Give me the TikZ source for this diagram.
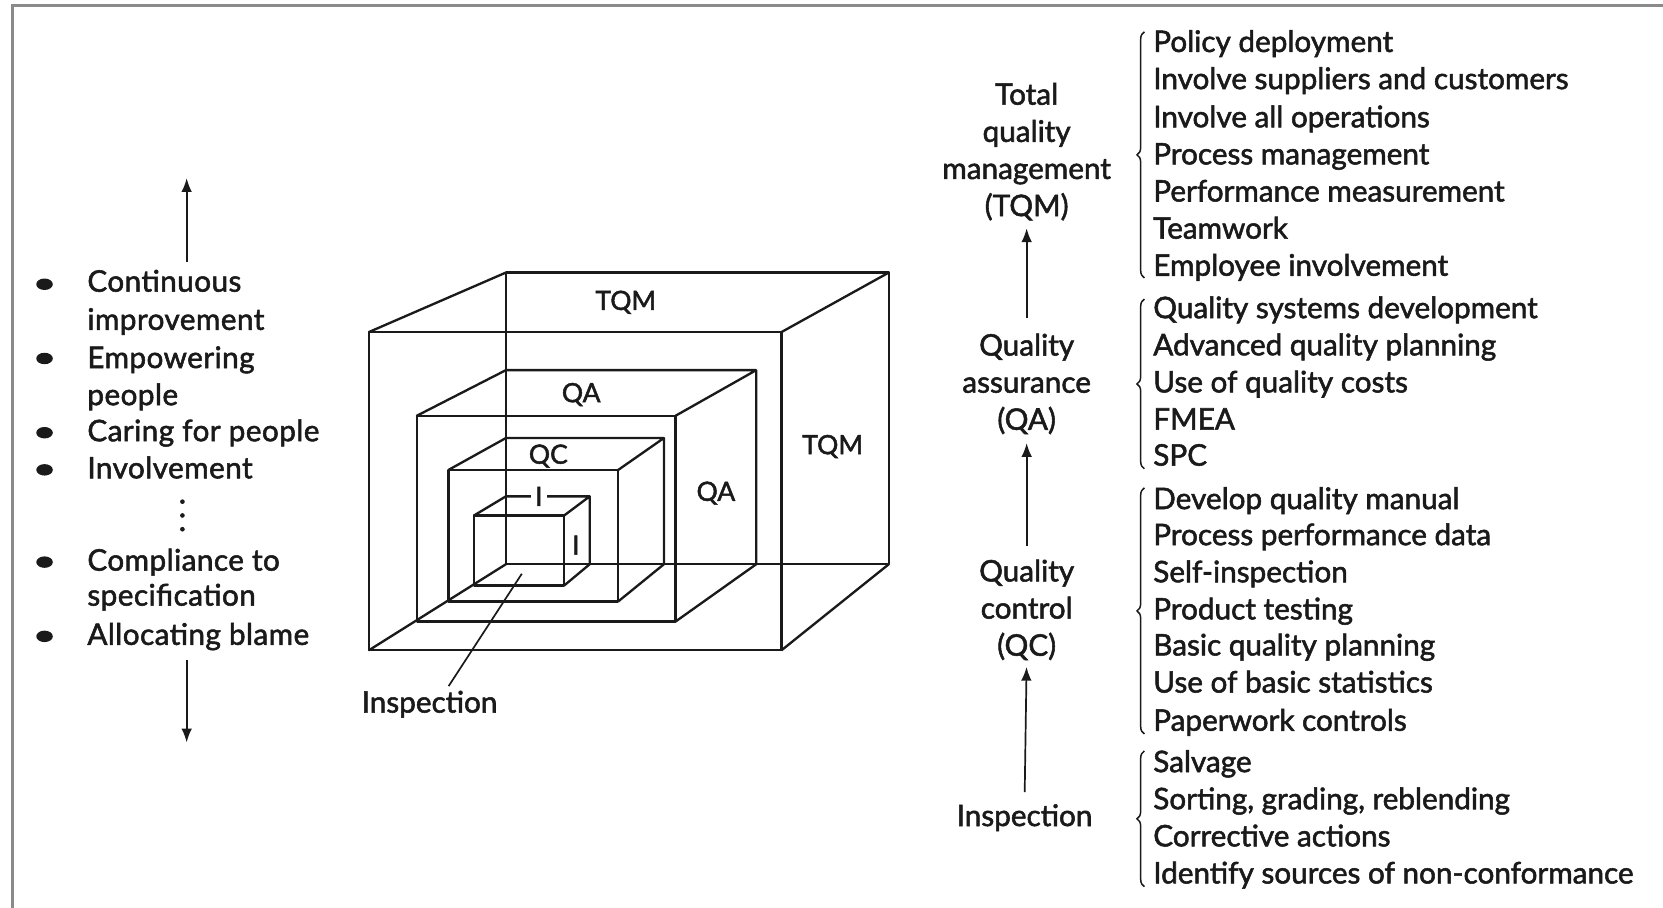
\documentclass[tikz,border=0pt]{standalone}
\usepackage{fontspec}
\setmainfont{Lato}[UprightFeatures={FakeBold=1.8}]
\newfontfamily\leftfont{Lato}[LetterSpace=1.5,UprightFeatures={FakeBold=1.8}]
\usetikzlibrary{arrows.meta,decorations.pathreplacing}
\definecolor{ink}{HTML}{1A1A1A}
\definecolor{framegray}{HTML}{8A8A8A}
\begin{document}
\begin{tikzpicture}[x=0.5pt,y=-0.5pt,
  cl/.style={draw=ink,line width=1.1pt,line join=round,line cap=round},
  thinline/.style={draw=ink,line width=0.8pt},
  arr/.style={draw=ink,line width=0.8pt,-{Latex[length=6.5pt,width=5pt]}},
  txt/.style={text=ink,inner sep=0pt,font=\fontsize{14}{17.5}\selectfont},
  lefttext/.style={text=ink,inner sep=0pt,anchor=base west,font=\leftfont\fontsize{14}{17.5}\selectfont},
  item/.style={txt,anchor=base west},
  mid/.style={txt,align=center},
  cubelab/.style={text=ink,inner sep=0pt,font=\fontsize{12.5}{15}\selectfont},
  bull/.style={fill=ink,draw=none},
  brc/.style={draw=ink,line width=0.7pt,decorate,decoration={brace,amplitude=3.5pt,aspect=0.5}}]
\useasboundingbox (0,0) rectangle (1568,856);
\fill[white] (0,0) rectangle (1568,856);
% frame
\draw[framegray,line width=1.6pt] (12,870) -- (12,5) -- (1580,5);

% ---------- left list ----------
\foreach \y in {268,338,408,443,530,600}
  \fill[bull] (42,\y) ellipse (3.9pt and 2.7pt);
\foreach \t/\y [count=\i] in {Continuous/267,improvement/303,Empowering/339,people/374,Caring for people/408,Involvement/443,Compliance to/530,specification/563,Allocating blame/600}
  \node[lefttext,name=L\i] at (82,\y+8) {\t};
\foreach \y in {473,486,499}
  \fill[ink] (172,\y) circle (1.1pt);
\coordinate (upS) at (176,247);
\coordinate (upE) at (176,168);
\coordinate (dnS) at (176,622);
\coordinate (dnE) at (176,700);
\draw[arr] (upS) -- (upE);
\draw[arr] (dnS) -- (dnE);

% ---------- cube ----------
% outer TQM
\draw[cl] (348,313) rectangle (737,613);
\draw[cl] (477,257) rectangle (838,532);
\draw[cl] (348,313)--(477,257) (737,313)--(838,257) (737,613)--(838,532) (348,613)--(477,532);
% QA
\draw[cl] (393,392) rectangle (637,586);
\draw[cl] (393,392)--(477,349)--(713,349)--(713,532) (637,392)--(713,349) (637,586)--(713,532);
% QC
\draw[cl] (423,443) rectangle (583,567);
\draw[cl] (423,443)--(477,413)--(626,413)--(626,532) (583,443)--(626,413) (583,567)--(626,532);
% I
\draw[cl] (447,486) rectangle (532,552);
\draw[cl] (447,486)--(477,468)--(556,468)--(556,532) (532,486)--(556,468) (532,552)--(556,532);
% labels
\node[cubelab] (tqmA) at (590,285) {TQM};
\node[cubelab] (tqmB) at (785,421) {TQM};
\node[cubelab] (qaA) at (548,372) {QA};
\node[cubelab] (qaB) at (675,465) {QA};
\node[cubelab] (qcA) at (517,430) {QC};
\node[cubelab,fill=white,inner xsep=2pt,inner ysep=0.5pt] (iA) at (508,468) {I};
\node[cubelab] (iB) at (543,514) {I};
\node[txt] (insp) at (405,664) {Inspection};
\coordinate (ifloor) at (492,541);
\draw[thinline] ([xshift=9pt,yshift=2pt]insp.north) -- (ifloor);

% ---------- middle column ----------
\node[mid] (tqm) at (968,143) {Total\\quality\\management\\(TQM)};
\node[mid] (qa) at (968,362) {Quality\\assurance\\(QA)};
\node[mid] (qc) at (968,575) {Quality\\control\\(QC)};
\node[txt] (ins) at (966,771) {Inspection};
\draw[arr,shorten <=7pt,shorten >=3.5pt] (qa.north) -- (tqm.south);
\draw[arr,shorten <=6pt,shorten >=4pt] (qc.north) -- (qa.south);
\draw[arr,shorten <=5.5pt,shorten >=3pt] (ins.north) -- (qc.south);

% ---------- braces ----------
\coordinate (b1s) at (1079,262); \coordinate (b1e) at (1079,30);
\coordinate (b2s) at (1079,442); \coordinate (b2e) at (1079,282);
\coordinate (b3s) at (1079,692); \coordinate (b3e) at (1079,460);
\coordinate (b4s) at (1079,836); \coordinate (b4e) at (1079,708);
\draw[brc] (b1s) -- (b1e);
\draw[brc] (b2s) -- (b2e);
\draw[brc] (b3s) -- (b3e);
\draw[brc] (b4s) -- (b4e);

% ---------- right list ----------
\foreach \t/\y [count=\i] in {Policy deployment/41,Involve suppliers and customers/76,Involve all operations/112,Process management/147,Performance measurement/182,Teamwork/217,Employee involvement/252,Quality systems development/292,Advanced quality planning/327,Use of quality costs/362,FMEA/397,SPC/431,Develop quality manual/472,Process performance data/506,Self-inspection/541,Product testing/576,Basic quality planning/610,Use of basic statistics/645,Paperwork controls/681,Salvage/720,Corrective actions/790,Identify sources of non-conformance/825}
  \node[item,name=R\i] at (1087,\y+8) {\t};
\node[item] (Rsort) at (1087,763) {Sorting, grading, reblending};
\end{tikzpicture}
\end{document}
